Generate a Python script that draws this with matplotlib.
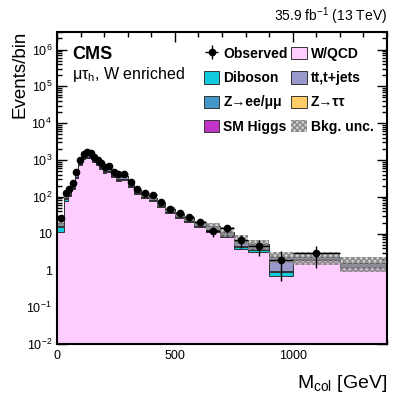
import matplotlib
matplotlib.use("Agg")
import matplotlib.pyplot as plt
import numpy as np
from matplotlib.patches import Patch

plt.rcParams['font.family'] = ['Liberation Sans', 'DejaVu Sans']
plt.rcParams['mathtext.fontset'] = 'custom'
plt.rcParams['mathtext.rm'] = 'Liberation Sans'
plt.rcParams['mathtext.it'] = 'Liberation Sans:italic'
plt.rcParams['mathtext.bf'] = 'Liberation Sans:bold'

# bin edges of M_col [GeV]
edges = [0, 30, 45, 60, 75, 90, 105, 120, 135, 150, 165, 180, 195, 210, 230, 250,
         270, 300, 325, 355, 390, 425, 460, 500, 540, 580, 630, 690, 750, 810,
         900, 1000, 1200, 1400]

# observed events per bin (0 = no point drawn)
observed = [27, 128, 159, 240, 462, 1000, 1456, 1620, 1523, 1230, 1000, 813, 657,
            687, 480, 407, 407, 247, 165, 124, 109, 73, 48, 37, 28.5, 20.8, 11.6,
            13.8, 6.6, 4.6, 1.9, 2.9, 0]

# background processes (stacked from bottom to top)
wqcd = [11, 79, 103, 160, 315, 720, 1060, 1130, 1100, 890, 720, 575, 455, 465, 340,
        275, 285, 180, 122, 90, 76, 53, 36, 26.5, 21, 15, 11, 8, 3.8, 3.2, 0.7, 1.9,
        1.2]
diboson = [4, 6, 7, 10, 17, 36, 48, 54, 52, 44, 37, 30, 25, 25, 19, 16, 16, 10, 7,
           5.5, 5, 3.4, 2.5, 1.9, 1.5, 1.1, 1.0, 0.8, 0.6, 0.5, 0.2, 0.1, 0.05]
zll = [1, 6, 6, 9, 15, 30, 42, 45, 42, 34, 27, 21, 17, 16, 12, 10, 10, 6, 4.2, 3,
       2.4, 1.8, 1.2, 0.9, 0.6, 0.5, 0.4, 0.3, 0.2, 0.1, 0.05, 0.05, 0.02]
ttbar = [3, 15, 19, 27, 55, 120, 180, 195, 190, 160, 125, 100, 78, 80, 57, 45, 45,
         28, 18, 14, 11, 8, 5.5, 4.2, 3.3, 2.4, 3.5, 2.2, 2.2, 1.4, 1.4, 0.2, 0.35]
ztt = [0.5, 1, 1, 2, 4, 9, 14, 16, 14, 10, 7, 5, 4, 4, 3, 2.5, 2.5, 1.5, 1, 0.7,
       0.6, 0.4, 0.3, 0.2, 0.15, 0.1, 0.1, 0.08, 0.06, 0.04, 0.02, 0.02, 0.01]
higgs = [0.05, 0.2, 0.3, 0.4, 0.8, 1.5, 2.5, 3, 2.5, 2, 1.5, 1.2, 1, 1, 0.7, 0.5,
         0.5, 0.3, 0.2, 0.15, 0.1, 0.08, 0.05, 0.04, 0.03, 0.02, 0.02, 0.01, 0.01,
         0.01, 0.005, 0.005, 0.002]

# relative background uncertainty per bin
bkg_unc = [0.2, 0.13, 0.13, 0.12, 0.12, 0.11, 0.11, 0.11, 0.11, 0.11, 0.11, 0.11,
           0.11, 0.11, 0.11, 0.12, 0.12, 0.12, 0.12, 0.12, 0.13, 0.13, 0.14, 0.15,
           0.16, 0.17, 0.2, 0.3, 0.3, 0.3, 0.35, 0.4, 0.45]

procs = [
    ("W/QCD", wqcd, "#FFCCFF"),
    ("Diboson", diboson, "#12CADD"),
    ("Z\u2192ee/\u03bc\u03bc", zll, "#4496C8"),
    ("tt,t+jets", ttbar, "#9999CC"),
    ("Z\u2192\u03c4\u03c4", ztt, "#FFCC66"),
    ("SM Higgs", higgs, "#C034C8"),
]

edges = np.array(edges, dtype=float)
centers = 0.5 * (edges[1:] + edges[:-1])
halfw = 0.5 * (edges[1:] - edges[:-1])

fig = plt.figure(figsize=(4.07, 3.95), dpi=100)
ax = fig.add_axes([0.140, 0.129, 0.811, 0.790])
ax.set_yscale('log')

bottom = np.full(len(centers), 1e-3)
for name, vals, col in procs:
    top = bottom + np.array(vals, dtype=float)
    ax.stairs(top, edges, baseline=bottom, fill=True, color=col, zorder=2)
    ax.stairs(top, edges, color='#333333', lw=0.7, zorder=3)
    bottom = top
total = bottom

unc = np.array(bkg_unc)
unc_face = (0.55, 0.55, 0.55, 0.4)
ax.stairs(total * (1 + unc), edges, baseline=total * (1 - unc), fill=True,
          facecolor=unc_face, edgecolor='#888888', hatch='xxxxxx', lw=0, zorder=4)

obs = np.array(observed, dtype=float)
m = obs > 0
ax.errorbar(centers[m], obs[m], xerr=halfw[m], yerr=np.sqrt(obs[m]), fmt='o',
            color='black', ms=4.5, lw=1, capsize=0, zorder=6)

ax.set_xlim(0, 1400)
ax.set_ylim(1e-2, 3e6)
ax.set_xticks([0, 500, 1000])
ax.set_xticks(np.arange(0, 1401, 100), minor=True)
yt = [1e-2, 1e-1, 1, 10, 1e2, 1e3, 1e4, 1e5, 1e6]
ax.set_yticks(yt)
ax.set_yticklabels(['$10^{-2}$', '$10^{-1}$', '1', '10', '$10^{2}$', '$10^{3}$',
                    '$10^{4}$', '$10^{5}$', '$10^{6}$'])
ax.yaxis.set_minor_locator(matplotlib.ticker.LogLocator(base=10, subs=np.arange(2, 10)))
ax.yaxis.set_minor_formatter(matplotlib.ticker.NullFormatter())
ax.tick_params(which='both', direction='in', top=True, right=True, labelsize=9, width=1)
ax.tick_params(which='major', length=7)
ax.tick_params(which='minor', length=3.5)
ax.tick_params(axis='x', pad=4)
for s in ax.spines.values():
    s.set_linewidth(1.5)
    s.set_zorder(10)

# y title, top-aligned with the frame
ax.text(-0.112, 1.005, 'Events/bin', transform=ax.transAxes, fontsize=13.5,
        rotation=90, ha='center', va='top')
ax.set_xlabel(r'M$_{\mathregular{col}}$ [GeV]', fontsize=14, loc='right', labelpad=8)

ax.text(0.045, 0.955, 'CMS', transform=ax.transAxes, fontsize=13, fontweight='bold',
        va='top', ha='left')
ax.text(0.045, 0.895, '\u03bc\u03c4$_\\mathregular{h}$, W enriched', transform=ax.transAxes,
        fontsize=11.5, va='top', ha='left')
ax.text(1.0, 1.015, '35.9 fb$^{-1}$ (13 TeV)', transform=ax.transAxes, fontsize=10,
        ha='right', va='bottom')

# legend, two columns filled column-wise
obs_h = ax.errorbar([], [], xerr=[], yerr=[], fmt='o', color='black', ms=4.5, lw=1)
def box(i):
    return Patch(facecolor=procs[i][2], edgecolor='#333333', lw=0.7)
unc_h = Patch(facecolor=unc_face, edgecolor='#888888', hatch='xxxxxx', lw=0)
handles = [obs_h, box(1), box(2), box(5), box(0), box(3), box(4), unc_h]
labels = ['Observed', procs[1][0], procs[2][0], procs[5][0], procs[0][0], procs[3][0],
          procs[4][0], 'Bkg. unc.']
ax.legend(handles, labels, ncol=2, loc='upper left', bbox_to_anchor=(0.445, 0.953),
          frameon=False, prop={'weight': 'bold', 'size': 10}, handlelength=1.1,
          handleheight=1.0, handletextpad=0.3, labelspacing=0.75, columnspacing=0.25,
          borderpad=0, borderaxespad=0)

fig.savefig('out.png', dpi=100)
